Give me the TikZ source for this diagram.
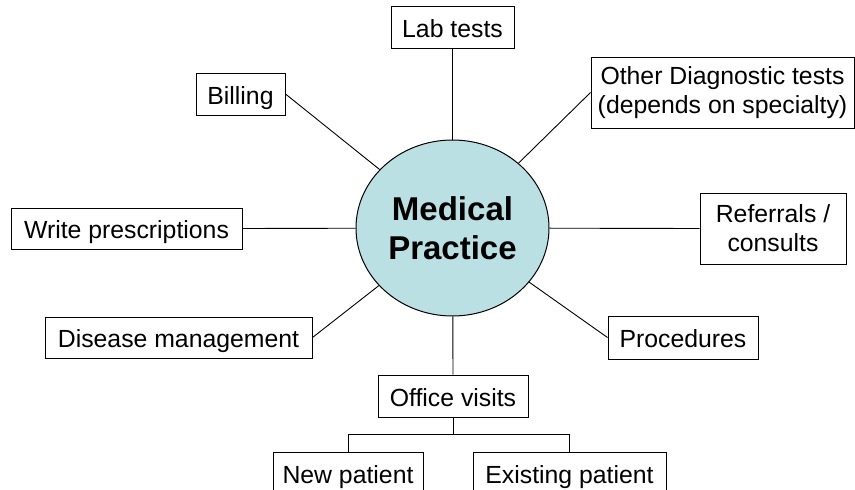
\documentclass[tikz,border=0pt]{standalone}
\usepackage{fontspec}
\setmainfont{Liberation Sans}
\usetikzlibrary{shapes.geometric}
\begin{document}
\begin{tikzpicture}[x=1pt,y=-1pt,
  box/.style={draw=black,line width=1pt,fill=white,inner sep=0pt,align=center,
    font=\fontsize{24.8}{29}\selectfont},
  oneline/.style={box,text height=23pt,text depth=3pt},
  hub/.style={ellipse,draw=black,line width=1pt,fill=hubblue,inner sep=0pt,
    minimum width=193pt,minimum height=176pt,align=center,
    font=\fontsize{33}{38.6}\selectfont\bfseries},
  link/.style={draw=black,line width=0.9pt}]
\definecolor{hubblue}{HTML}{BBE0E3}
\clip (0,0) rectangle (855,490);
\fill[white] (0,0) rectangle (855,490);
\node[hub] (hub) at (452.5,228) {Medical\\Practice};
\node[oneline,minimum width=123pt,minimum height=42pt] (lab) at (452.5,27) {Lab tests};
\node[oneline,minimum width=89pt,minimum height=42pt] (bill) at (240.5,94) {Billing};
\node[box,minimum width=263pt,minimum height=71pt] (other) at (722.5,92.5) {Other Diagnostic tests\\(depends on specialty)};
\node[box,minimum width=146pt,minimum height=71pt] (ref) at (773,228.5) {Referrals /\\consults};
\node[oneline,minimum width=150pt,minimum height=43pt] (proc) at (683,337.5) {Procedures};
\node[oneline,minimum width=231pt,minimum height=41pt] (rx) at (126.5,228.5) {Write prescriptions};
\node[oneline,minimum width=267pt,minimum height=41pt] (dis) at (178.5,337.5) {Disease management};
\node[oneline,minimum width=150pt,minimum height=42pt] (off) at (453,396) {Office visits};
\node[oneline,minimum width=150pt,minimum height=42pt] (new) at (348,473) {New patient};
\node[oneline,minimum width=193pt,minimum height=42pt] (exist) at (569.5,473) {Existing patient};
\coordinate (split) at (453,434);
\draw[link] (hub) -- (lab.south);
\draw[link] (hub) -- (bill.east);
\draw[link] (hub) -- (other.west);
\draw[link] (hub) -- (ref.west);
\draw[link] (hub) -- (proc.west);
\draw[link] (hub) -- (rx.east);
\draw[link] (hub) -- (dis.east);
\draw[link] (hub) -- (off.north);
\draw[link] (off.south) -- (split);
\draw[link] (split) -| (new.north);
\draw[link] (split) -| (exist.north);
\end{tikzpicture}
\end{document}
